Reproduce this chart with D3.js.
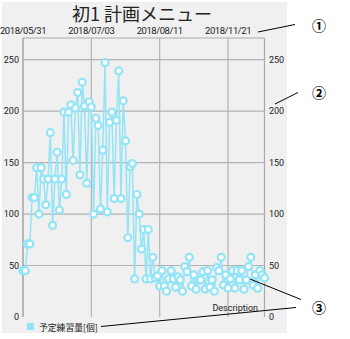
<!DOCTYPE html>
<html>
<head>
<meta charset="utf-8">
<script src="https://cdn.jsdelivr.net/npm/d3@7"></script>
<style>
  html, body { margin: 0; padding: 0; background: #fff; }
  svg { display: block; }
  text { font-family: Roboto, "Noto Sans CJK JP", sans-serif; fill: #222; }
</style>
</head>
<body>
<div id="chart"></div>
<script>
// Chart data.
const xLabels = ['2018/05/31', '2018/07/03', '2018/08/11', '2018/11/21'];
const xLabelIdx = [0, 30, 60, 90];
const yTicks = [0, 50, 100, 150, 200, 250];
const seriesName = '予定練習量[個]';
const planned = [
  45, 45, 71, 71, 116, 116, 145, 100, 145, 134,
  109, 134, 179, 89, 134, 160, 104, 134, 199, 119,
  199, 206, 152, 203, 218, 138, 228, 205, 130, 209,
  204, 100, 193, 186, 105, 162, 247, 102, 189, 199,
  115, 191, 239, 115, 210, 171, 77, 146, 149, 37,
  119, 100, 66, 85, 37, 85, 37, 58, 38, 40,
  30, 45, 30, 25, 37, 45, 37, 29, 39, 36,
  25, 49, 44, 58, 30, 41, 27, 36, 36, 44,
  27, 45, 29, 36, 25, 48, 45, 58, 31, 41,
  28, 37, 45, 28, 45, 36, 45, 27, 36, 49,
  58, 31, 41, 28, 45, 41, 38
];
const annotations = ['①', '②', '③'];

const W = 350, H = 339;
const LINE = '#93e4f6';
const GRID = '#b2b2b2';

const svg = d3.select('#chart').append('svg')
  .attr('width', W).attr('height', H);

// panel background
svg.append('rect')
  .attr('x', 2).attr('y', 2).attr('width', 285).attr('height', 331)
  .attr('fill', '#f0f0f0');

const plot = { left: 23, right: 264.5, top: 38, bottom: 317 };

const x = d3.scaleLinear()
  .domain([0, planned.length - 1])
  .range([plot.left, plot.right]);
const y = d3.scaleLinear()
  .domain([0, 271])
  .range([plot.bottom, plot.top]);

// title
svg.append('text')
  .attr('x', 142).attr('y', 20.8)
  .attr('text-anchor', 'middle')
  .style('font-family', '"Noto Sans CJK JP", sans-serif')
  .style('font-size', '18px')
  .text('初1 計画メニュー');

// horizontal grid (skip 0)
svg.append('g').selectAll('line')
  .data(yTicks.filter(t => t > 0))
  .enter().append('line')
    .attr('x1', plot.left).attr('x2', plot.right)
    .attr('y1', d => y(d)).attr('y2', d => y(d))
    .attr('stroke', GRID).attr('stroke-width', 1.2);

// vertical grid
svg.append('g').selectAll('line')
  .data(xLabelIdx)
  .enter().append('line')
    .attr('x1', d => x(d)).attr('x2', d => x(d))
    .attr('y1', plot.top).attr('y2', plot.bottom)
    .attr('stroke', GRID).attr('stroke-width', 1.2);

// axis lines: top x axis, left + right y axes
const axisG = svg.append('g').attr('stroke', '#aaa').attr('stroke-width', 1.2);
axisG.append('line').attr('x1', plot.left).attr('x2', plot.right)
  .attr('y1', plot.top).attr('y2', plot.top);
axisG.append('line').attr('x1', plot.left).attr('x2', plot.left)
  .attr('y1', plot.top).attr('y2', plot.bottom);
axisG.append('line').attr('x1', plot.right).attr('x2', plot.right)
  .attr('y1', plot.top).attr('y2', plot.bottom);

// x labels on top
svg.append('g').selectAll('text')
  .data(xLabelIdx)
  .enter().append('text')
    .attr('x', d => x(d)).attr('y', 34)
    .attr('text-anchor', 'middle')
    .style('font-size', '9.5px')
    .style('letter-spacing', '-0.45px')
    .text((d, i) => xLabels[i]);

// y labels, left and right
svg.append('g').selectAll('text')
  .data(yTicks)
  .enter().append('text')
    .attr('x', 19).attr('y', d => y(d) + 3.2)
    .attr('text-anchor', 'end')
    .style('font-size', '9px')
    .text(d => d);
svg.append('g').selectAll('text')
  .data(yTicks)
  .enter().append('text')
    .attr('x', 269).attr('y', d => y(d) + 3.2)
    .style('font-size', '9px')
    .text(d => d);

// series line
const line = d3.line().x((d, i) => x(i)).y(d => y(d));
svg.append('path')
  .datum(planned)
  .attr('d', line)
  .attr('fill', 'none')
  .attr('stroke', LINE)
  .attr('stroke-width', 1.5);

// circles with white hole
svg.append('g').selectAll('circle')
  .data(planned)
  .enter().append('circle')
    .attr('cx', (d, i) => x(i)).attr('cy', d => y(d))
    .attr('r', 3.5)
    .attr('fill', '#fff')
    .attr('stroke', LINE)
    .attr('stroke-width', 2.2);

// description + legend
svg.append('text')
  .attr('x', 258).attr('y', 311)
  .attr('text-anchor', 'end')
  .style('font-size', '9px')
  .text('Description');

svg.append('rect')
  .attr('x', 27).attr('y', 323).attr('width', 7).attr('height', 7)
  .attr('fill', LINE);
svg.append('text')
  .attr('x', 39).attr('y', 331)
  .style('font-family', '"Noto Sans CJK JP", sans-serif')
  .style('font-size', '8.8px')
  .text(seriesName);

// annotation callouts
const callLines = [
  [258, 32, 295, 24.5],
  [275, 104, 298, 92.5],
  [250, 279, 301, 299.5],
  [101, 326.5, 296, 307.5]
];
svg.append('g').selectAll('line')
  .data(callLines)
  .enter().append('line')
    .attr('x1', d => d[0]).attr('y1', d => d[1])
    .attr('x2', d => d[2]).attr('y2', d => d[3])
    .attr('stroke', '#000').attr('stroke-width', 1);

const callY = [26, 93, 308];
svg.append('g').selectAll('text')
  .data(annotations)
  .enter().append('text')
    .attr('x', 319).attr('y', (d, i) => callY[i] + 5)
    .attr('text-anchor', 'middle')
    .style('font-family', '"Noto Sans CJK JP", sans-serif')
    .style('font-weight', 'bold')
    .style('font-size', '14px')
    .style('fill', '#000')
    .text(d => d);
</script>
</body>
</html>
